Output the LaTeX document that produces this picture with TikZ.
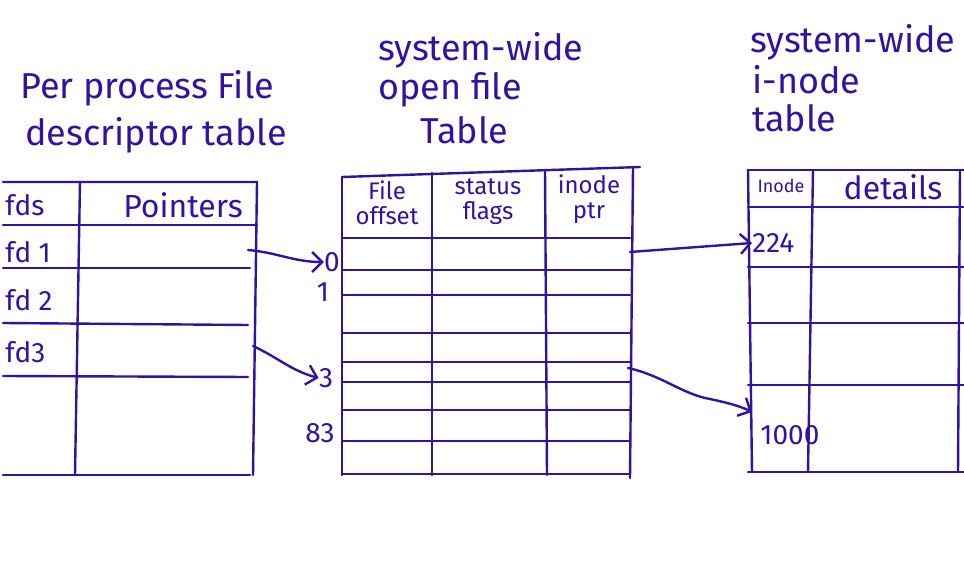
\documentclass[tikz,border=0pt]{standalone}
\usepackage{fontspec}
\setmainfont{Fira Sans}
\usetikzlibrary{arrows.meta}
\definecolor{ink}{RGB}{52,18,160}
\tikzset{
  grid/.style={draw=ink, line width=1.2pt, line cap=round},
  lbl/.style={text=ink, inner sep=0pt, font=\fontsize{14}{15}\selectfont},
  big/.style={text=ink, inner sep=0pt, font=\fontsize{16}{17}\selectfont},
  small/.style={text=ink, inner sep=0pt, align=center, font=\fontsize{12}{12.5}\selectfont},
  title/.style={text=ink, inner sep=0pt, anchor=west, font=\fontsize{18}{20}\selectfont},
  ptr/.style={draw=ink, line width=1.2pt, line cap=round, -{Straight Barb[length=5pt,width=10pt,line width=1.2pt]}}
}
\begin{document}
\begin{tikzpicture}[x=0.5pt,y=-0.5pt]
\useasboundingbox (0,0) rectangle (964,566);
\clip (0,0) rectangle (964,566);

% titles
\node[title] (t1a) at (20,88) {Per process File};
\node[title] (t1b) at (25,135) {descriptor table};
\node[title] (t2a) at (378,50) {system-wide};
\node[title] (t2b) at (378,90) {open file};
\node[title] (t2c) at (420,130) {Table};
\node[title] (t3a) at (750,42) {system-wide};
\node[title] (t3b) at (752,80) {i-node};
\node[title] (t3c) at (752,118) {table};

% table 1: per process file descriptor table
\draw[grid] (3,182) -- (257,182) -- (253,475);
\draw[grid] (80,182) -- (75,475);
\draw[grid] (3,225) -- (257,225);
\draw[grid] (3,268) -- (250,268);
\draw[grid] (3,323) -- (248,325);
\draw[grid] (3,376) -- (248,377);
\draw[grid] (3,475) -- (250,475);
\node[lbl, anchor=west] (fds) at (5,205) {fds};
\node[big] (ptrs) at (183,205) {Pointers};
\node[lbl, anchor=west] (fd1) at (5,252) {fd 1};
\node[lbl, anchor=west] (fd2) at (5,300) {fd 2};
\node[lbl, anchor=west] (fd3) at (5,352) {fd3};

% table 2: system-wide open file table
\draw[grid] (342,177) -- (640,167);
\draw[grid] (342,177) -- (342,475);
\draw[grid] (432,173) -- (432,475);
\draw[grid] (545,170) -- (547,475);
\draw[grid] (633,168) -- (630,478);
\foreach \y in {238,270,295,333,362,382,410,441,474}
  \draw[grid] (342,\y) -- (630,\y);
\node[small] (hoff) at (387,203) {File\\offset};
\node[small] (hsta) at (488,202) {status\\flags};
\node[small] (hino) at (589,199) {inode\\ptr};
\node[lbl] (i0) at (332,262) {0};
\node[lbl] (i1) at (323,292) {1};
\node[lbl] (i3) at (326,378) {3};
\node[lbl] (i83) at (320,433) {83};

% table 3: system-wide i-node table
\draw[grid] (748,170) -- (964,170);
\draw[grid] (748,170) -- (752,472);
\draw[grid] (813,170) -- (808,472);
\draw[grid] (960,170) -- (958,472);
\foreach \y in {207,267,323,385,472}
  \draw[grid] (748,\y) -- (964,\y);
\node[small, font=\fontsize{9}{10}\selectfont] (hin) at (781,186) {Inode};
\node[big] (hdet) at (893,187) {details};
\node[lbl, anchor=west] (i224) at (752,243) {224};
\node[lbl, anchor=west] (i1000) at (760,435) {1000};
\coordinate (t1000) at (752,412);

% connectors
\coordinate (p1) at (248,250);
\coordinate (p3) at (253,346);
\coordinate (q1) at (630,252);
\coordinate (q2) at (628,368);
\draw[ptr] (p1) to[out=-5,in=180] (i0.west);
\draw[ptr] (p3) to[out=-25,in=165] (i3.west);
\draw[ptr] (q1) -- (i224.west);
\draw[ptr] (q2) .. controls (660,375) and (680,392) .. (705,398) .. controls (725,402) and (740,406) .. (t1000);
\end{tikzpicture}
\end{document}
